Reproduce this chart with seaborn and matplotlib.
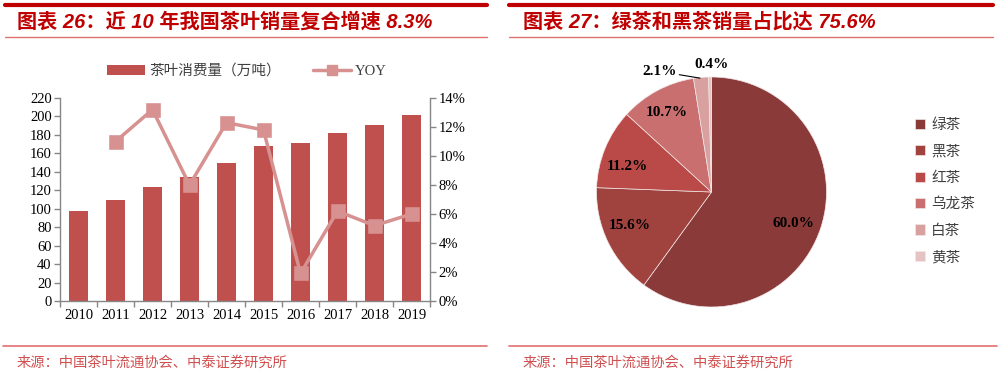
import matplotlib
matplotlib.use("Agg")
import matplotlib.pyplot as plt
import seaborn as sns
import pandas as pd
import numpy as np
from matplotlib.patches import Patch
from matplotlib.lines import Line2D

# ---------------- data ----------------
years = ["2010", "2011", "2012", "2013", "2014", "2015", "2016", "2017", "2018", "2019"]
consumption = [98, 109, 124, 134, 150, 168, 171, 182, 191, 202]
yoy_years = ["2011", "2012", "2013", "2014", "2015", "2016", "2017", "2018", "2019"]
yoy = [11.0, 13.2, 8.0, 12.3, 11.8, 1.9, 6.2, 5.2, 6.0]

tea_types = ["绿茶", "黑茶", "红茶", "乌龙茶", "白茶", "黄茶"]
tea_share = [60.0, 15.6, 11.2, 10.7, 2.1, 0.4]

title_left = "图表 26：近 10 年我国茶叶销量复合增速 8.3%"
title_right = "图表 27：绿茶和黑茶销量占比达 75.6%"
source_text = "来源：中国茶叶流通协会、中泰证券研究所"
bar_label = "茶叶消费量（万吨）"
line_label = "YOY"

# ---------------- style ----------------
sns.set_theme(style="white")
plt.rcParams['font.family'] = ['Liberation Serif', 'Noto Sans CJK SC', 'DejaVu Sans']
plt.rcParams['axes.unicode_minus'] = False

W, H = 1000, 378
fig = plt.figure(figsize=(W / 100, H / 100), dpi=100)

def fx(px):
    return px / W

def fy(py):
    return 1 - py / H

RED = "#C00000"
LIGHTRED = "#E07070"
BAR = "#C0504D"
LINE = "#D69190"
AXC = "#868686"
TXT = "#404040"

# header / footer decorations
def hline(x0, x1, y, lw, color):
    fig.add_artist(Line2D([fx(x0), fx(x1)], [fy(y), fy(y)], lw=lw, color=color,
                          transform=fig.transFigure))

hline(5, 487, 5, 3.0, RED)
hline(5, 487, 37, 1.0, LIGHTRED)
hline(509, 993, 5, 3.0, RED)
hline(509, 993, 37, 1.0, LIGHTRED)
hline(3, 487, 346, 1.2, LIGHTRED)
hline(509, 997, 346, 1.2, LIGHTRED)

title_font = ['Liberation Sans', 'Noto Sans CJK SC']
fig.text(fx(17), fy(22), title_left, color=RED, fontsize=14.5, fontweight='bold',
         style='italic', va='center', ha='left', family=title_font)
fig.text(fx(523), fy(22), title_right, color=RED, fontsize=14.5, fontweight='bold',
         style='italic', va='center', ha='left', family=title_font)
fig.text(fx(17), fy(363), source_text, color="#D05050", fontsize=10.3, va='center',
         ha='left', family=['Noto Sans CJK SC'])
fig.text(fx(523), fy(363), source_text, color="#D05050", fontsize=10.3, va='center',
         ha='left', family=['Noto Sans CJK SC'])

# ---------------- left: bars + line ----------------
ax = fig.add_axes([fx(60), fy(301), fx(430) - fx(60), fy(98) - fy(301)])
df_bar = pd.DataFrame({"year": years, "value": consumption})
sns.barplot(data=df_bar, x="year", y="value", order=years, color=BAR,
            saturation=1, width=0.52, ax=ax, edgecolor="none")
ax.set_ylim(0, 220)
ax.set_yticks(np.arange(0, 221, 20))
ax.set_xlim(-0.5, len(years) - 0.5)
ax.set_xlabel("")
ax.set_ylabel("")

ax2 = ax.twinx()
df_line = pd.DataFrame({"year": yoy_years, "yoy": yoy})
sns.pointplot(data=df_line, x="year", y="yoy", order=years, color=LINE,
              markers="s", ax=ax2, linewidth=2.5, markersize=8)
ax2.set_ylim(0, 14)
ax2.set_yticks(np.arange(0, 15, 2))
ax2.set_yticklabels([f"{v}%" for v in range(0, 15, 2)])
ax2.set_xlim(-0.5, len(years) - 0.5)
ax2.set_xlabel("")
ax2.set_ylabel("")

for a in (ax, ax2):
    a.spines["top"].set_visible(False)
    for s in ("left", "right", "bottom"):
        a.spines[s].set_color(AXC)
        a.spines[s].set_linewidth(1.0)
ax.spines["right"].set_visible(False)
ax2.spines["left"].set_visible(False)
ax2.spines["bottom"].set_visible(False)

ax.tick_params(axis='y', which='major', length=4, width=1, color=AXC, direction='out',
               labelsize=10.5, labelcolor="#000000", pad=2, left=True)
ax2.tick_params(axis='y', which='major', length=4, width=1, color=AXC, direction='out',
                labelsize=10.5, labelcolor="#000000", pad=2, right=True)
ax.set_xticks(np.arange(-0.5, len(years), 1.0), minor=True)
ax.tick_params(axis='x', which='minor', length=4, width=1, color=AXC, direction='out',
               bottom=True)
ax.tick_params(axis='x', which='major', length=0, labelsize=10.5, labelcolor="#000000", pad=6)
ax2.tick_params(axis='x', which='both', length=0)

for lbl in ax.get_xticklabels() + ax.get_yticklabels() + ax2.get_yticklabels():
    lbl.set_family(['Liberation Serif'])

handles = [Patch(facecolor=BAR, edgecolor="none", label=bar_label),
           Line2D([0], [0], color=LINE, lw=2.5, marker='s', markersize=7, label=line_label)]
fig.legend(handles=handles, loc='center', bbox_to_anchor=(fx(247), fy(71)), ncol=2,
           frameon=False, handlelength=2.6, handleheight=0.7,
           columnspacing=2.2, handletextpad=0.3, labelcolor=TXT,
           prop={'family': ['Liberation Serif', 'Noto Sans CJK SC'], 'size': 10.5})

# ---------------- right: pie ----------------
pie_colors = ["#8B3A3A", "#A0433F", "#B94A48", "#C96F6F", "#D9A0A0", "#E6C3C3"]
r = 115
cx, cy = 711.5, 192
axp = fig.add_axes([fx(cx - r), fy(cy + r), 2 * r / W, 2 * r / H])
wedges, _ = axp.pie(tea_share, colors=pie_colors, startangle=90, counterclock=False,
                    wedgeprops=dict(edgecolor="#F2E6E6", linewidth=0.5), radius=1.0)
axp.set_xlim(-1, 1)
axp.set_ylim(-1, 1)
axp.set_aspect('equal')
axp.axis('off')

# label positions relative to pie (radius units), placed like the reference
label_pos = [(0.71, -0.27), (-0.71, -0.29), (-0.73, 0.22), (-0.39, 0.69), (-0.45, 1.05), (0.0, 1.11)]
for val, (lx, ly) in zip(tea_share, label_pos):
    axp.text(lx, ly, f"{val:.1f}%", ha='center', va='center', fontsize=11,
             fontweight='bold', color="#000000", family=['Liberation Serif'])
axp.plot([-0.28, -0.10], [1.02, 0.99], color="#000000", lw=0.8, clip_on=False)

axp.legend(wedges, tea_types, loc='center left', bbox_to_anchor=(fx(902), fy(191)),
           bbox_transform=fig.transFigure, frameon=False,
           handlelength=0.7, handleheight=0.7, handletextpad=0.4, labelspacing=0.85,
           labelcolor=TXT, prop={'family': ['Noto Sans CJK SC'], 'size': 10.5})

fig.savefig("out.png", dpi=100)
